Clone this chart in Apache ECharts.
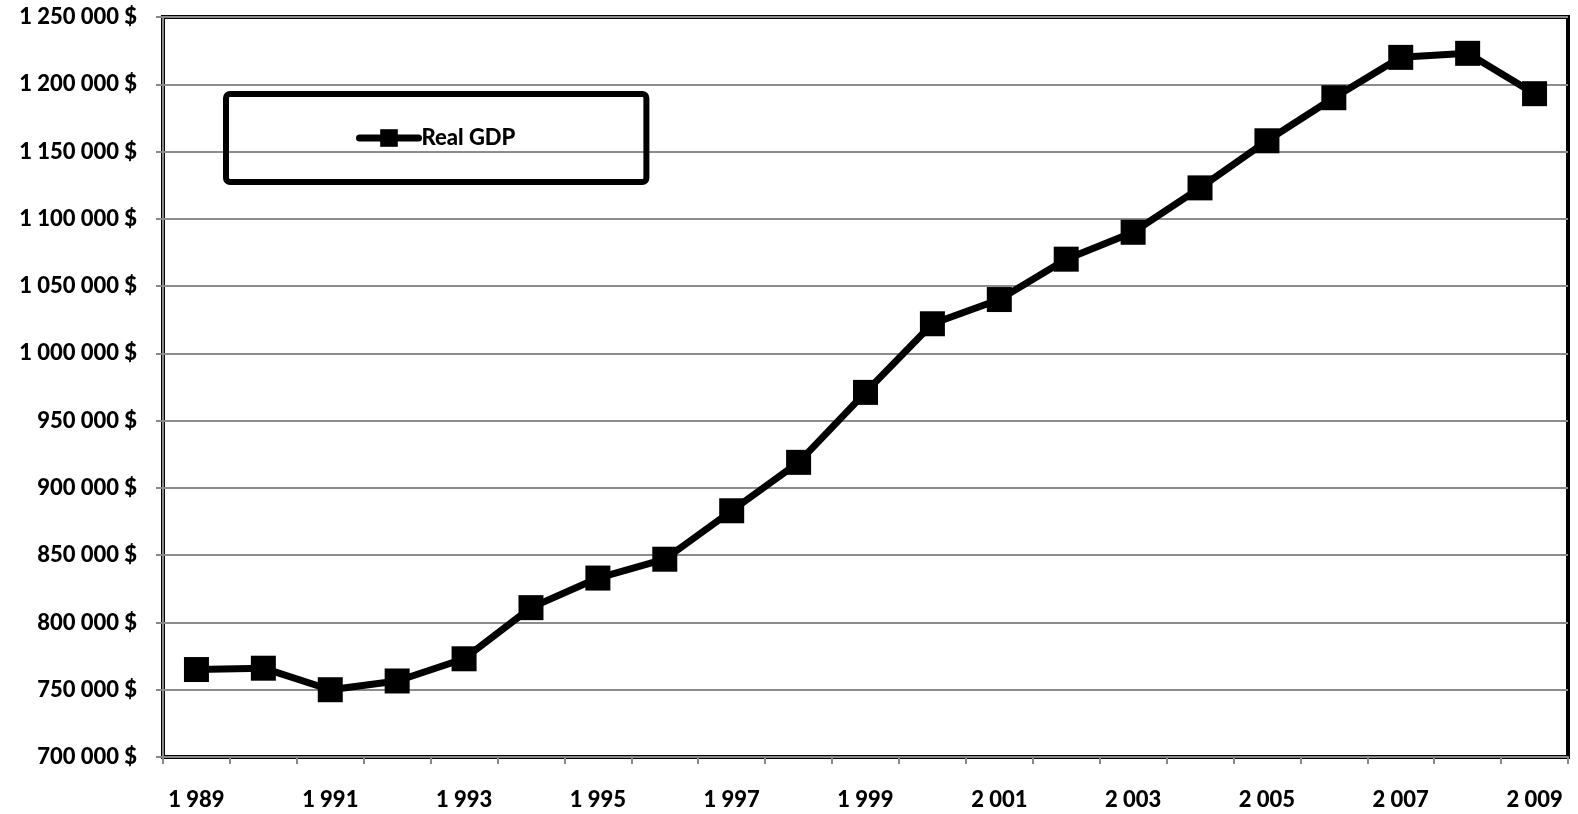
<!DOCTYPE html>
<html>
<head>
<meta charset="utf-8">
<script src="https://cdn.jsdelivr.net/npm/echarts@6/dist/echarts.min.js"></script>
<style>
  html, body { margin: 0; padding: 0; background: #fff; }
  #chart { width: 1578px; height: 814px; }
</style>
</head>
<body>
<div id="chart"></div>
<script>
// Real GDP by year
const years = [1989, 1990, 1991, 1992, 1993, 1994, 1995, 1996, 1997, 1998, 1999,
               2000, 2001, 2002, 2003, 2004, 2005, 2006, 2007, 2008, 2009];
const realGdp = [765000, 766000, 750000, 756500, 773000, 811000, 833000, 847000, 883000, 919000, 971000,
                 1022000, 1040000, 1070000, 1090000, 1123000, 1158000, 1190000, 1220000, 1223000, 1193000];
const seriesName = 'Real GDP';

// space as thousands separator, e.g. 1 250 000
function groupDigits(n) {
  return String(n).replace(/\B(?=(\d{3})+(?!\d))/g, ' ');
}

const FONT = 'Lato, "Open Sans", sans-serif';
const FONT_SIZE = 22;
const FONT_WEIGHT = 900;
const chart = echarts.init(document.getElementById('chart'));
chart.setOption({
  animation: false,
  backgroundColor: '#fff',
  grid: {
    left: 163, top: 17, right: 10, bottom: 57,
    show: true, borderColor: '#000', borderWidth: 4, backgroundColor: 'transparent'
  },
  legend: {
    left: 226, top: 94,
    padding: [33, 131, 33, 130],
    borderColor: '#000', borderWidth: 6, borderRadius: 4,
    itemWidth: 59, itemHeight: 22, itemGap: 0,
    lineStyle: { width: 7, cap: 'round' },
    textStyle: { fontFamily: FONT, fontWeight: FONT_WEIGHT, fontSize: FONT_SIZE, color: '#000', padding: [0, 0, 0, -2] },
    data: [seriesName]
  },
  xAxis: {
    type: 'category',
    data: years.map(groupDigits),
    boundaryGap: true,
    axisLine: { lineStyle: { color: '#888', width: 2 } },
    axisTick: { show: true, alignWithLabel: false, interval: 0, length: 7, lineStyle: { color: '#888', width: 2 } },
    axisLabel: { interval: 1, margin: 32, fontFamily: FONT, fontWeight: FONT_WEIGHT, fontSize: FONT_SIZE, color: '#000' }
  },
  yAxis: {
    type: 'value',
    min: 700000, max: 1250000, interval: 50000,
    axisLine: { show: true, lineStyle: { color: '#888', width: 2 } },
    axisTick: { show: true, length: 7, lineStyle: { color: '#888', width: 2 } },
    splitLine: { lineStyle: { color: '#8c8c8c', width: 2 } },
    axisLabel: {
      margin: 26, fontFamily: FONT, fontWeight: FONT_WEIGHT, fontSize: FONT_SIZE, color: '#000',
      formatter: v => groupDigits(v) + ' $'
    }
  },
  series: [{
    name: seriesName,
    type: 'line',
    data: realGdp,
    symbol: 'rect',
    symbolSize: 25,
    lineStyle: { color: '#000', width: 7 },
    itemStyle: { color: '#000' }
  }]
});
</script>
</body>
</html>
